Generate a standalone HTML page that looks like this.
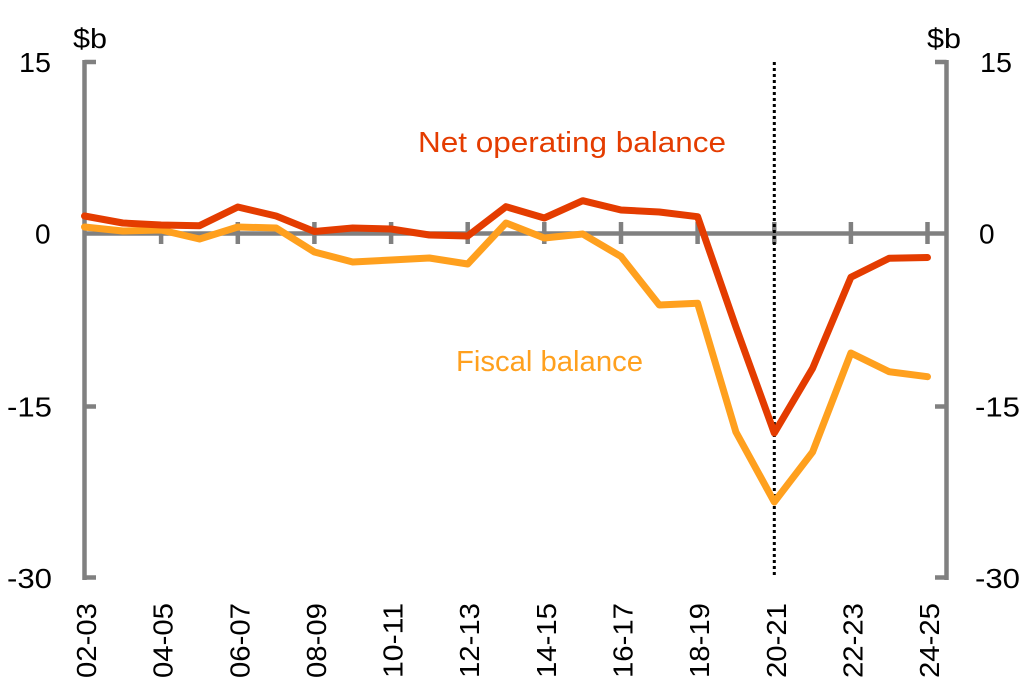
<!DOCTYPE html>
<html>
<head>
<meta charset="utf-8">
<style>
html,body{margin:0;padding:0;background:#fff;}
svg{display:block;}
text{font-family:"Liberation Sans",Arial,sans-serif;}
</style>
</head>
<body>
<svg width="1031" height="687" viewBox="0 0 1031 687" xmlns="http://www.w3.org/2000/svg">
  <rect width="1031" height="687" fill="#fff"/>

  <!-- axes -->
  <g stroke="#808080" stroke-width="4.5" fill="none">
    <line x1="84.5" y1="60" x2="84.5" y2="580"/>
    <line x1="946.5" y1="60" x2="946.5" y2="580"/>
    <!-- left ticks -->
    <line x1="84.5" y1="62" x2="96" y2="62"/>
    <line x1="84.5" y1="406.5" x2="96" y2="406.5"/>
    <line x1="84.5" y1="577.5" x2="96" y2="577.5"/>
    <!-- right ticks -->
    <line x1="935" y1="62" x2="946.5" y2="62"/>
    <line x1="935" y1="406.5" x2="946.5" y2="406.5"/>
    <line x1="935" y1="577.5" x2="946.5" y2="577.5"/>
    <!-- zero line -->
    <line x1="84.5" y1="233.5" x2="946.5" y2="233.5"/>
    <!-- x ticks -->
    <line x1="161.1" y1="222" x2="161.1" y2="244"/>
    <line x1="237.8" y1="222" x2="237.8" y2="244"/>
    <line x1="314.4" y1="222" x2="314.4" y2="244"/>
    <line x1="391.1" y1="222" x2="391.1" y2="244"/>
    <line x1="467.7" y1="222" x2="467.7" y2="244"/>
    <line x1="544.3" y1="222" x2="544.3" y2="244"/>
    <line x1="621.0" y1="222" x2="621.0" y2="244"/>
    <line x1="697.6" y1="222" x2="697.6" y2="244"/>
    <line x1="774.3" y1="222" x2="774.3" y2="244"/>
    <line x1="850.9" y1="222" x2="850.9" y2="244"/>
    <line x1="927.5" y1="222" x2="927.5" y2="244"/>
  </g>

  <!-- dotted vertical -->
  <line x1="774.3" y1="62" x2="774.3" y2="578" stroke="#000" stroke-width="3" stroke-dasharray="3,3"/>

  <!-- Fiscal balance -->
  <polyline fill="none" stroke="#FFA01E" stroke-width="7" stroke-linejoin="round" stroke-linecap="round"
    points="84.5,227 122.8,231 161.1,230 199.5,239 237.8,227 276.1,228 314.4,252 352.7,262 391.1,260 429.4,258 467.7,264 506.0,223 544.3,238 582.7,234 621.0,256.5 659.3,305 697.6,303.3 735.9,432 774.3,502 812.6,452 850.9,353 889.2,371.7 927.5,376.7"/>

  <!-- Net operating balance -->
  <polyline fill="none" stroke="#E43C00" stroke-width="7" stroke-linejoin="round" stroke-linecap="round"
    points="84.5,216 122.8,223 161.1,225 199.5,225.7 237.8,207 276.1,216 314.4,231.5 352.7,228 391.1,229 429.4,235 467.7,236 506.0,206.7 544.3,218 582.7,200.7 621.0,210 659.3,212 697.6,216.7 735.9,327 774.3,433 812.6,368.3 850.9,277.3 889.2,258.3 927.5,257.5"/>

  <!-- series labels -->
  <text x="418" y="152" font-size="29" fill="#E43C00" textLength="308" lengthAdjust="spacingAndGlyphs">Net operating balance</text>
  <text x="456" y="371" font-size="29" fill="#FFA01E" textLength="187" lengthAdjust="spacingAndGlyphs">Fiscal balance</text>

  <!-- unit labels -->
  <text x="73" y="48" font-size="28" fill="#000" textLength="34" lengthAdjust="spacingAndGlyphs">$b</text>
  <text x="927" y="48" font-size="28" fill="#000" textLength="34" lengthAdjust="spacingAndGlyphs">$b</text>

  <!-- left y labels -->
  <g font-size="28" fill="#000">
    <text x="19" y="72" textLength="32" lengthAdjust="spacingAndGlyphs">15</text>
    <text x="35" y="243.5">0</text>
    <text x="7" y="416.5" textLength="45" lengthAdjust="spacingAndGlyphs">-15</text>
    <text x="7" y="588" textLength="45" lengthAdjust="spacingAndGlyphs">-30</text>
  </g>
  <!-- right y labels -->
  <g font-size="28" fill="#000">
    <text x="980" y="72" textLength="32" lengthAdjust="spacingAndGlyphs">15</text>
    <text x="979" y="243.5">0</text>
    <text x="975" y="416.5" textLength="45" lengthAdjust="spacingAndGlyphs">-15</text>
    <text x="975" y="588" textLength="45" lengthAdjust="spacingAndGlyphs">-30</text>
  </g>

  <!-- x labels (rotated) -->
  <g font-size="28" fill="#000" text-anchor="end">
    <text transform="translate(96,603) rotate(-90)" textLength="75" lengthAdjust="spacingAndGlyphs">02-03</text>
    <text transform="translate(172.6,603) rotate(-90)" textLength="75" lengthAdjust="spacingAndGlyphs">04-05</text>
    <text transform="translate(249.3,603) rotate(-90)" textLength="75" lengthAdjust="spacingAndGlyphs">06-07</text>
    <text transform="translate(325.9,603) rotate(-90)" textLength="75" lengthAdjust="spacingAndGlyphs">08-09</text>
    <text transform="translate(402.6,603) rotate(-90)" textLength="75" lengthAdjust="spacingAndGlyphs">10-11</text>
    <text transform="translate(479.2,603) rotate(-90)" textLength="75" lengthAdjust="spacingAndGlyphs">12-13</text>
    <text transform="translate(555.8,603) rotate(-90)" textLength="75" lengthAdjust="spacingAndGlyphs">14-15</text>
    <text transform="translate(632.5,603) rotate(-90)" textLength="75" lengthAdjust="spacingAndGlyphs">16-17</text>
    <text transform="translate(709.1,603) rotate(-90)" textLength="75" lengthAdjust="spacingAndGlyphs">18-19</text>
    <text transform="translate(785.8,603) rotate(-90)" textLength="75" lengthAdjust="spacingAndGlyphs">20-21</text>
    <text transform="translate(862.4,603) rotate(-90)" textLength="75" lengthAdjust="spacingAndGlyphs">22-23</text>
    <text transform="translate(939.0,603) rotate(-90)" textLength="75" lengthAdjust="spacingAndGlyphs">24-25</text>
  </g>
</svg>
</body>
</html>
